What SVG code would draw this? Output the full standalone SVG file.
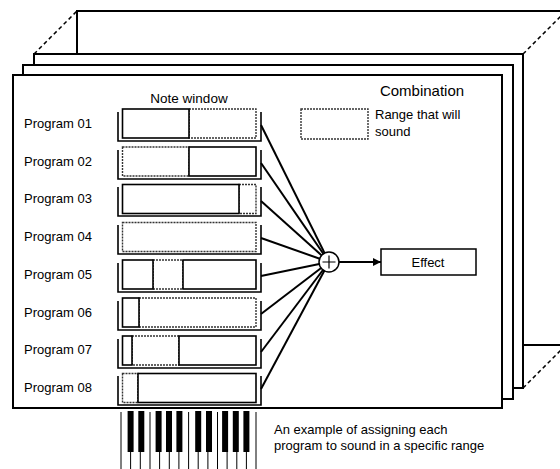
<svg xmlns="http://www.w3.org/2000/svg" width="560" height="469" viewBox="0 0 560 469">
<style>
text{font-family:"Liberation Sans",Arial,sans-serif;fill:#000}
.panel{fill:#fff;stroke:#000;stroke-width:2}
.dash{fill:none;stroke:#000;stroke-width:1.5;stroke-dasharray:4 3}
.lbl{font-size:13px}
.brk{fill:none;stroke:#000;stroke-width:1.6}
.sol{fill:#fff;stroke:#000;stroke-width:1.6}
.rng{fill:#fff;stroke:#333;stroke-width:1.4;stroke-dasharray:2 1}
.con{fill:none;stroke:#000;stroke-width:2}
.wk{stroke:#000;stroke-width:1}
.bk{fill:#000}
</style>
<defs>
<marker id="ah" viewBox="0 0 10 10" refX="10" refY="5" markerWidth="10" markerHeight="8" markerUnits="userSpaceOnUse" orient="auto">
<path d="M0,0 L10,5 L0,10 z" fill="#000"/>
</marker>
</defs>

<g id="stack">
<rect class="panel" x="77" y="11" width="500" height="334"/>
<path class="dash" d="M34,54 L77,11 M523,54 L566,11 M523,388 L566,345"/>
<rect class="panel" x="34" y="54" width="489" height="334"/>
<rect class="panel" x="23" y="65" width="490" height="334"/>
<rect class="panel" x="13" y="75" width="489" height="333"/>
</g>

<g id="title">
<text x="422" y="96" font-size="15" text-anchor="middle">Combination</text>
<text x="189" y="103" font-size="13.5" text-anchor="middle">Note window</text>
</g>

<g id="legend">
<rect class="rng" x="301" y="109" width="67" height="30"/>
<text class="lbl" x="375" y="119">Range that will</text>
<text class="lbl" x="375" y="136">sound</text>
</g>

<g id="connectors">
<line class="con" x1="261" y1="125" x2="329" y2="262"/>
<line class="con" x1="261" y1="163" x2="329" y2="262"/>
<line class="con" x1="261" y1="201" x2="329" y2="262"/>
<line class="con" x1="261" y1="238" x2="329" y2="262"/>
<line class="con" x1="261" y1="276" x2="329" y2="262"/>
<line class="con" x1="261" y1="314" x2="329" y2="262"/>
<line class="con" x1="261" y1="352" x2="329" y2="262"/>
<line class="con" x1="261" y1="389" x2="329" y2="262"/>
<line class="con" x1="339" y1="262" x2="381" y2="262" marker-end="url(#ah)"/>
</g>

<g id="program01">
<text class="lbl" x="24" y="128">Program 01</text>
<path class="brk" d="M118,112 V141 H261 V112"/>
<rect class="rng" x="189" y="109" width="67" height="29"/>
<rect class="sol" x="122.5" y="109" width="66.5" height="29"/>
</g>
<g id="program02">
<text class="lbl" x="24" y="166">Program 02</text>
<path class="brk" d="M118,150 V179 H261 V150"/>
<rect class="rng" x="122.5" y="147" width="66.5" height="29"/>
<rect class="sol" x="189" y="147" width="67" height="29"/>
</g>
<g id="program03">
<text class="lbl" x="24" y="203">Program 03</text>
<path class="brk" d="M118,187 V216 H261 V187"/>
<rect class="rng" x="239" y="184.5" width="17" height="29"/>
<rect class="sol" x="122.5" y="184.5" width="116.5" height="29"/>
</g>
<g id="program04">
<text class="lbl" x="24" y="241">Program 04</text>
<path class="brk" d="M118,225 V254 H261 V225"/>
<rect class="rng" x="122.5" y="222.5" width="133.5" height="29"/>
</g>
<g id="program05">
<text class="lbl" x="24" y="279">Program 05</text>
<path class="brk" d="M118,263 V292 H261 V263"/>
<rect class="rng" x="153" y="260" width="30" height="29"/>
<rect class="sol" x="122.5" y="260" width="30.5" height="29"/>
<rect class="sol" x="183" y="260" width="73" height="29"/>
</g>
<g id="program06">
<text class="lbl" x="24" y="317">Program 06</text>
<path class="brk" d="M118,301 V330 H261 V301"/>
<rect class="rng" x="139" y="298" width="117" height="29"/>
<rect class="sol" x="122.5" y="298" width="16.5" height="29"/>
</g>
<g id="program07">
<text class="lbl" x="24" y="354">Program 07</text>
<path class="brk" d="M118,339 V368 H261 V339"/>
<rect class="rng" x="132" y="336" width="47" height="29"/>
<rect class="sol" x="122.5" y="336" width="9.5" height="29"/>
<rect class="sol" x="179" y="336" width="77" height="29"/>
</g>
<g id="program08">
<text class="lbl" x="24" y="392">Program 08</text>
<path class="brk" d="M118,376 V405 H261 V376"/>
<rect class="rng" x="122.5" y="373.5" width="15.5" height="29"/>
<rect class="sol" x="138" y="373.5" width="118" height="29"/>
</g>

<g id="mixer">
<circle cx="329" cy="262" r="10" fill="#fff" stroke="#000" stroke-width="1.5"/>
<path d="M322.5,262 H335.5 M329,255.5 V268.5" stroke="#000" stroke-width="1.2"/>
</g>

<g id="effect">
<rect x="381" y="249" width="95" height="26" fill="#fff" stroke="#000" stroke-width="1.5"/>
<text class="lbl" x="428" y="266.5" text-anchor="middle">Effect</text>
</g>

<g id="keyboard">
<path class="wk" d="M121,412 V469 M130.6,412 V469 M140.3,412 V469 M150,412 V469 M159.6,412 V469 M169.3,412 V469 M178.9,412 V469 M188.6,412 V469 M198.2,412 V469 M207.9,412 V469 M217.5,412 V469 M227.1,412 V469 M236.8,412 V469 M246.4,412 V469 M256,412 V469"/>
<rect class="bk" x="127.6" y="411" width="6" height="41"/>
<rect class="bk" x="138.3" y="411" width="6" height="41"/>
<rect class="bk" x="155.6" y="411" width="6" height="41"/>
<rect class="bk" x="166" y="411" width="6" height="41"/>
<rect class="bk" x="176.4" y="411" width="6" height="41"/>
<rect class="bk" x="195.2" y="411" width="6" height="41"/>
<rect class="bk" x="206" y="411" width="6" height="41"/>
<rect class="bk" x="222.1" y="411" width="6" height="41"/>
<rect class="bk" x="232.8" y="411" width="6" height="41"/>
<rect class="bk" x="243.4" y="411" width="6" height="41"/>
</g>

<g id="caption">
<text class="lbl" x="274" y="434">An example of assigning each</text>
<text class="lbl" x="274" y="450">program to sound in a specific range</text>
</g>
</svg>
